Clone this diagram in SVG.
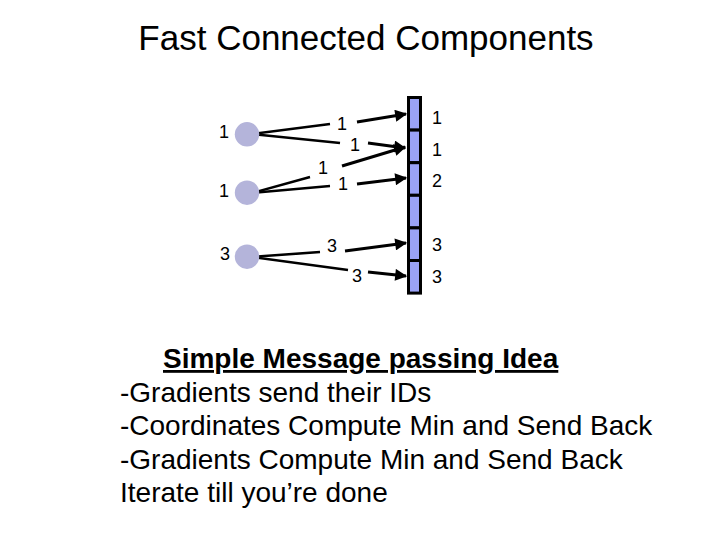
<svg xmlns="http://www.w3.org/2000/svg" width="720" height="540" viewBox="0 0 720 540">
<style>
text{font-family:"Liberation Sans",Arial,sans-serif;fill:#000}
.lbl{font-size:18px;text-anchor:middle}
.body{font-size:28px}
.link{stroke:#000;stroke-width:2.5;fill:none}
.arr{stroke:#000;stroke-width:3;fill:none;marker-end:url(#ah)}
.node{fill:#b4b4da}
.cell{fill:#9aa2f6;stroke:#000;stroke-width:3}
</style>
<defs>
<marker id="ah" viewBox="0 0 10 10" refX="9" refY="5" markerWidth="4.5" markerHeight="4" orient="auto" markerUnits="strokeWidth">
<path d="M0,0 L10,5 L0,10 z" fill="#000"/>
</marker>
</defs>
<rect width="720" height="540" fill="#fff"/>
<text x="366" y="50" font-size="35" text-anchor="middle">Fast Connected Components</text>

<g id="connectors">
<line class="link" x1="252" y1="134" x2="330" y2="124"/>
<line class="link" x1="252" y1="134" x2="340" y2="143"/>
<line class="link" x1="252" y1="193" x2="310" y2="177"/>
<line class="link" x1="252" y1="193" x2="330" y2="186"/>
<line class="link" x1="252" y1="257" x2="320" y2="252"/>
<line class="link" x1="252" y1="257" x2="348" y2="270"/>
<line class="arr" x1="357" y1="122" x2="406" y2="114"/>
<line class="arr" x1="368" y1="143" x2="405" y2="148"/>
<line class="arr" x1="342" y1="166" x2="405" y2="147"/>
<line class="arr" x1="357" y1="184" x2="406" y2="178"/>
<line class="arr" x1="345" y1="251" x2="406" y2="243"/>
<line class="arr" x1="368" y1="272" x2="406" y2="276"/>
<text class="lbl" x="342" y="129.5">1</text>
<text class="lbl" x="355" y="151">1</text>
<text class="lbl" x="323" y="173.5">1</text>
<text class="lbl" x="343" y="189.5">1</text>
<text class="lbl" x="332" y="252">3</text>
<text class="lbl" x="357" y="282">3</text>
</g>

<g id="node1">
<circle class="node" cx="247" cy="134.3" r="12.2"/>
<text class="lbl" x="224" y="138">1</text>
</g>
<g id="node2">
<circle class="node" cx="247" cy="192.7" r="12.2"/>
<text class="lbl" x="224" y="196.5">1</text>
</g>
<g id="node3">
<circle class="node" cx="247" cy="256.7" r="12.2"/>
<text class="lbl" x="225" y="260">3</text>
</g>

<g id="array">
<rect class="cell" x="408.5" y="97.5" width="12" height="32.6"/>
<rect class="cell" x="408.5" y="130.1" width="12" height="32.6"/>
<rect class="cell" x="408.5" y="162.7" width="12" height="32.6"/>
<rect class="cell" x="408.5" y="195.3" width="12" height="32.6"/>
<rect class="cell" x="408.5" y="227.9" width="12" height="32.6"/>
<rect class="cell" x="408.5" y="260.5" width="12" height="32.6"/>
<text class="lbl" x="437" y="123.5">1</text>
<text class="lbl" x="437" y="156">1</text>
<text class="lbl" x="437" y="186.5">2</text>
<text class="lbl" x="437" y="251">3</text>
<text class="lbl" x="437" y="283">3</text>
</g>

<g id="notes">
<text class="body" x="163" y="368" font-weight="bold" text-decoration="underline">Simple Message passing Idea</text>
<text class="body" x="120" y="401.5">-Gradients send their IDs</text>
<text class="body" x="120" y="435">-Coordinates Compute Min and Send Back</text>
<text class="body" x="120" y="468.5">-Gradients Compute Min and Send Back</text>
<text class="body" x="120" y="502">Iterate till you’re done</text>
</g>
</svg>
